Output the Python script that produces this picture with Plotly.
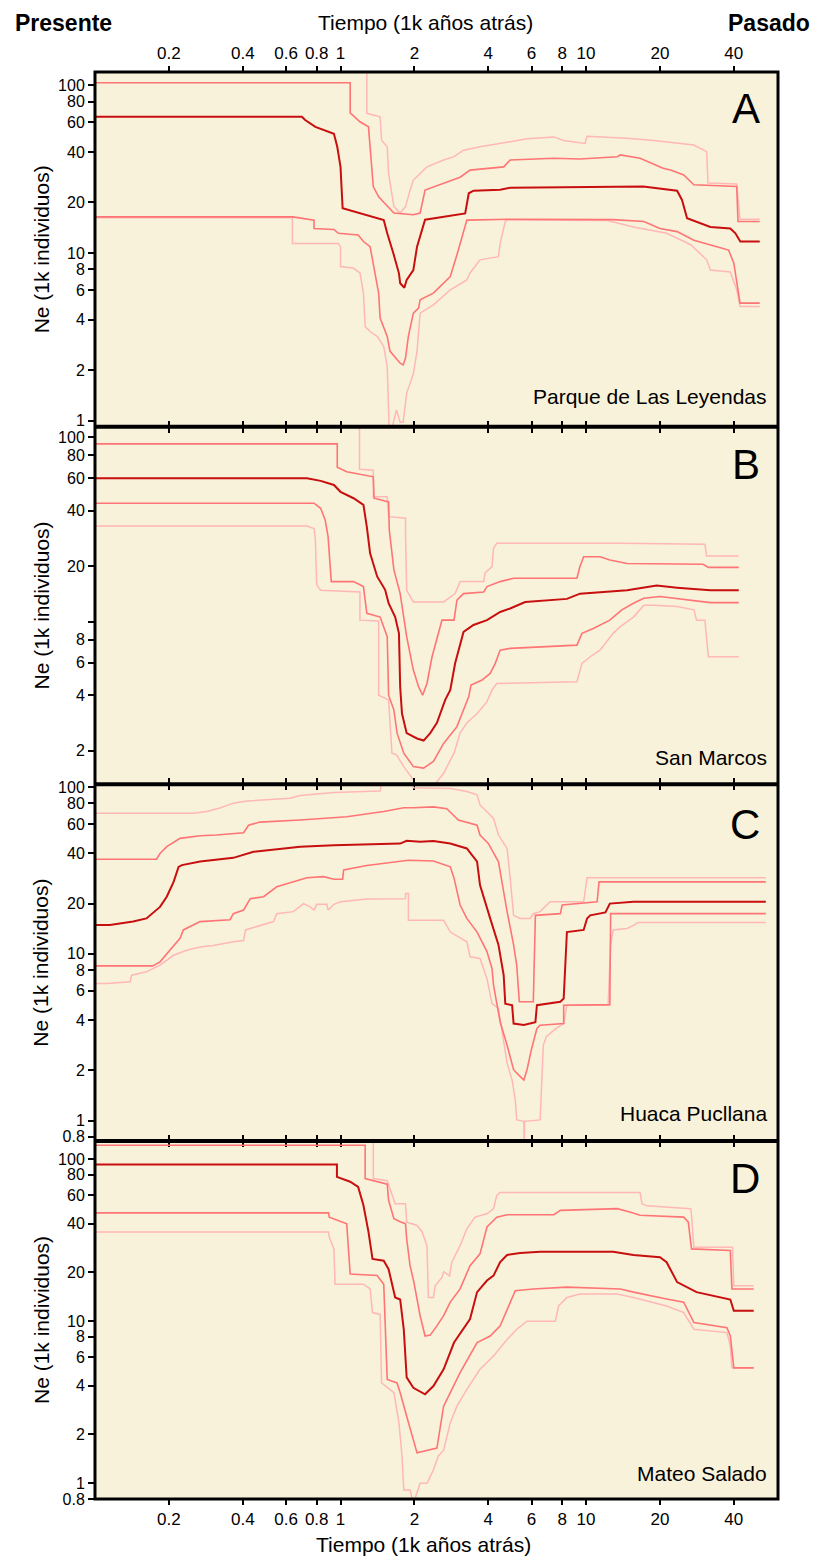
import plotly.graph_objects as go

# ---------------- data: time (1k years ago) and Ne (1k individuals) ----------------
# Panel A  - Parque de Las Leyendas
A_t_med = [0.1, 0.696, 0.718, 0.79, 0.94, 0.97, 1.0, 1.02, 1.50, 1.55, 1.64, 1.73, 1.75, 1.82, 1.86, 1.98, 2.05, 2.19, 2.21, 3.22, 3.33, 3.48, 4.47, 4.91, 17.1, 23.5, 24.6, 25.8, 32.1, 38.7, 40.6, 42.5, 51]
A_ne_med = [64.9, 64.9, 62, 56.5, 51.3, 43, 32.6, 18.5, 15.7, 13.1, 10, 7.56, 6.6, 6.2, 6.9, 7.9, 10.9, 15.4, 15.8, 17.2, 22.7, 23.5, 23.8, 24.5, 24.9, 23.5, 20.7, 16.1, 14.3, 14.0, 13.1, 11.7, 11.7]
A_t_iu = [0.1, 1.095, 1.095, 1.2, 1.30, 1.32, 1.36, 1.43, 1.55, 1.65, 1.98, 2.11, 2.21, 2.47, 3.07, 3.37, 4.62, 4.91, 7.4, 9.45, 13.4, 13.8, 16.6, 20.6, 22.1, 25.0, 27.5, 41.1, 41.6, 51]
A_ne_iu = [103.5, 103.5, 68.5, 60.6, 56.5, 43, 24.9, 21.6, 18.9, 17.3, 16.9, 17.3, 23.7, 25.1, 28.3, 31.2, 32.6, 35.8, 36.7, 36.3, 37.5, 38.4, 36.7, 32, 31.2, 29.2, 25.5, 24.9, 15.4, 15.4]
A_t_ou = [0.1, 1.28, 1.28, 1.45, 1.47, 1.55, 1.57, 1.65, 1.75, 1.84, 1.92, 1.98, 2.11, 2.25, 2.63, 2.9, 3.17, 3.7, 4.91, 5.75, 7.4, 8.1, 9.9, 10.1, 14.7, 18.9, 27.5, 31.0, 31.4, 41.1, 42.4, 51]
A_ne_ou = [200, 200, 68, 64.9, 47, 43, 29.8, 18.9, 17.3, 18.9, 23.7, 27.2, 29.8, 32.6, 35.8, 37.5, 41, 43, 46, 47.9, 49.2, 46.8, 45, 49.6, 48.3, 46.8, 44, 40.2, 26.1, 25.8, 15.9, 15.9]
A_t_il = [0.1, 0.64, 0.78, 0.78, 0.94, 0.98, 1.18, 1.24, 1.32, 1.38, 1.43, 1.45, 1.55, 1.59, 1.70, 1.75, 1.80, 1.84, 1.89, 1.98, 2.08, 2.11, 2.39, 2.8, 3.02, 3.27, 4.91, 12.9, 17.2, 20, 23.5, 27.5, 34.1, 38.1, 40, 41.1, 42.4, 51]
A_ne_il = [16.4, 16.4, 15.7, 14, 13.8, 13.1, 12.8, 11.7, 10.9, 7.6, 5.76, 4.09, 3.18, 2.6, 2.3, 2.2, 2.15, 2.36, 3.18, 4.38, 4.69, 5.26, 5.76, 7.23, 10.4, 15.7, 15.9, 15.8, 15.4, 14, 13.4, 11.9, 10.9, 10.4, 8.7, 6.9, 5.02, 5.02]
A_t_ol = [0.1, 0.637, 0.637, 0.98, 1.0, 1.0, 1.13, 1.2, 1.24, 1.26, 1.32, 1.41, 1.5, 1.55, 1.58, 1.62, 1.69, 1.75, 1.80, 1.86, 1.98, 2.05, 2.11, 2.39, 2.8, 3.27, 3.37, 3.7, 4.4, 4.47, 4.69, 4.77, 12.2, 15.6, 21.3, 26.7, 31, 32.1, 38.7, 41.1, 42.4, 51]
A_ne_ol = [16.2, 16.2, 11.4, 11.4, 10.9, 8.3, 8.1, 7.6, 5.76, 3.64, 3.4, 3.18, 2.77, 2.1, 0.85, 0.9, 1.16, 0.98, 0.98, 1.46, 1.9, 2.6, 4.38, 4.9, 6.03, 6.9, 7.6, 9.1, 9.5, 11.4, 15.4, 15.7, 15.6, 14.3, 13.1, 11.2, 9.1, 7.9, 7.7, 6.03, 4.79, 4.79]

# Panel B  - San Marcos
B_t_med = [0.1, 0.73, 0.83, 0.94, 1.0, 1.13, 1.24, 1.28, 1.32, 1.41, 1.52, 1.57, 1.67, 1.73, 1.75, 1.78, 1.86, 2.05, 2.18, 2.32, 2.47, 2.67, 2.8, 2.93, 3.17, 3.48, 3.95, 4.47, 4.91, 5.65, 8.36, 9.45, 14.7, 19.4, 23.5, 32.1, 41.9]
B_ne_med = [59.9, 59.9, 58, 55.1, 50.6, 46.7, 43, 32.7, 23.5, 17.6, 14.9, 12.6, 10.6, 8.65, 4.44, 3.18, 2.49, 2.33, 2.27, 2.49, 2.83, 3.77, 4.27, 5.95, 8.8, 9.6, 10.2, 11.3, 11.8, 12.8, 13.3, 14.2, 14.8, 15.7, 15.3, 14.8, 14.8]
B_t_iu = [0.1, 0.97, 0.97, 1.06, 1.36, 1.37, 1.57, 1.58, 1.65, 1.75, 1.86, 1.98, 2.08, 2.16, 2.25, 2.36, 2.59, 2.9, 2.98, 3.17, 3.83, 3.95, 4.47, 5.07, 9.18, 9.45, 9.78, 11.4, 12.5, 14.7, 30, 31.5, 41.9]
B_ne_iu = [92, 92, 68.7, 65, 61, 46.7, 44.6, 31.4, 19.1, 14.2, 8.3, 5.47, 4.44, 4.0, 4.63, 6.46, 10.2, 10.2, 13.1, 14.2, 14.5, 15.5, 16.5, 17.2, 17.2, 19.9, 22.5, 22.5, 21.6, 20.7, 20.5, 19.7, 19.7]
B_t_ou = [0.1, 1.195, 1.195, 1.36, 1.36, 1.55, 1.57, 1.84, 1.84, 1.86, 1.98, 2.63, 2.93, 3.07, 3.83, 3.88, 4.14, 4.2, 4.33, 13.8, 30.5, 31.0, 41.9]
B_ne_ou = [200, 200, 67, 66.3, 47.5, 47.5, 37.1, 36.4, 30, 14.8, 12.8, 12.8, 14.2, 16.5, 16.5, 18.4, 19.9, 25, 26.6, 26.6, 26.3, 22.7, 22.7]
B_t_il = [0.1, 0.78, 0.83, 0.866, 0.89, 0.917, 1.13, 1.24, 1.28, 1.45, 1.55, 1.57, 1.65, 1.70, 1.81, 1.98, 2.18, 2.39, 2.63, 2.98, 3.33, 3.4, 3.77, 4.07, 4.27, 4.47, 4.91, 9.18, 9.63, 10.7, 12.5, 14.0, 15.6, 17.2, 20, 25, 32.1, 41.9]
B_ne_il = [43.9, 43.9, 41.2, 35.6, 28.9, 16.5, 16.5, 15.5, 11.1, 10.6, 8.3, 4.0, 3.32, 2.49, 1.94, 1.64, 1.61, 1.75, 2.19, 2.7, 3.93, 4.54, 4.83, 5.25, 5.95, 7.02, 7.17, 7.47, 8.65, 9.2, 10.2, 11.6, 12.6, 13.4, 13.7, 13.2, 12.7, 12.7]
B_t_ol = [0.1, 0.73, 0.78, 0.79, 0.80, 0.83, 1.2, 1.2, 1.43, 1.43, 1.57, 1.62, 1.69, 1.81, 1.98, 2.1, 2.3, 2.47, 2.63, 2.9, 3.07, 3.27, 3.6, 3.95, 4.14, 4.33, 9.18, 9.63, 10.4, 11.4, 12.9, 13.8, 15.6, 17.2, 18.9, 23.5, 27.5, 28.2, 30.5, 31.5, 41.9]
B_ne_ol = [33, 33, 32, 28, 15.8, 14.8, 14.5, 10.2, 10.1, 4.0, 3.77, 1.94, 1.9, 1.64, 1.39, 1.2, 1.2, 1.36, 1.51, 1.94, 2.49, 2.83, 3.18, 3.69, 4.27, 4.63, 4.73, 5.95, 6.46, 7.02, 8.65, 9.4, 10.6, 12.3, 12.3, 12.1, 11.6, 10.2, 10.2, 6.46, 6.46]

# Panel C  - Huaca Pucllana
C_t_med = [0.1, 0.115, 0.143, 0.162, 0.184, 0.196, 0.209, 0.219, 0.226, 0.268, 0.366, 0.442, 0.685, 0.94, 1.75, 1.86, 2.11, 2.39, 2.8, 3.27, 3.6, 3.7, 4.07, 4.4, 4.62, 4.69, 5.0, 5.07, 5.58, 6.22, 6.31, 7.86, 8.11, 8.22, 8.36, 9.78, 10.1, 10.4, 12.0, 12.5, 15.6, 54]
C_ne_med = [14.9, 14.9, 15.6, 16.3, 19.1, 22.0, 27.0, 33.2, 34.0, 35.7, 37.6, 40.9, 43.8, 44.8, 45.8, 47.6, 47, 47.5, 45.8, 42.8, 35.7, 25.8, 16.3, 11.3, 7.44, 5.03, 4.92, 3.82, 3.74, 3.89, 4.92, 5.16, 5.39, 7.8, 13.5, 13.9, 16.3, 17.0, 17.7, 20, 20.5, 20.5]
C_t_iu = [0.1, 0.178, 0.184, 0.196, 0.222, 0.268, 0.313, 0.403, 0.422, 0.47, 0.685, 1.06, 1.5, 1.81, 1.98, 2.39, 2.71, 3.02, 3.6, 3.7, 4.0, 4.4, 4.77, 5.07, 5.22, 5.35, 6.1, 6.22, 7.86, 8.0, 11.1, 11.3, 54]
C_ne_iu = [36.9, 36.9, 39.9, 43.9, 49.2, 51.0, 51.5, 53.2, 59.0, 61.6, 63.4, 66.3, 71.2, 75.1, 75.1, 76, 74, 63.4, 59, 51.5, 45.9, 35.6, 17.9, 11.3, 8.55, 5.16, 5.16, 17.0, 17.4, 19.6, 20.5, 27.0, 27.0]
C_t_ou = [0.1, 0.252, 0.285, 0.323, 0.366, 0.415, 0.624, 0.685, 0.94, 1.45, 1.49, 1.95, 1.98, 2.39, 2.8, 3.27, 3.6, 3.7, 4.2, 4.4, 4.77, 4.91, 5.07, 5.39, 5.93, 6.1, 6.5, 7.14, 9.78, 10.1, 54]
C_ne_ou = [69.5, 69.5, 71.2, 74.9, 80, 82.3, 85.6, 89, 92.6, 94.5, 115, 115, 99, 99, 98, 93.9, 89.7, 78, 64.7, 51.5, 42.8, 28.4, 17, 16.3, 16.3, 17.4, 17.9, 20.5, 20.5, 28.6, 28.6]
C_t_il = [0.1, 0.172, 0.184, 0.2, 0.222, 0.229, 0.248, 0.268, 0.355, 0.366, 0.403, 0.429, 0.486, 0.55, 0.643, 0.73, 0.852, 0.94, 1.02, 1.03, 1.28, 1.75, 1.89, 2.39, 2.8, 2.9, 3.07, 3.27, 3.6, 3.95, 4.14, 4.2, 4.33, 4.47, 4.77, 5.07, 5.31, 5.58, 5.75, 6.0, 6.31, 6.5, 8.11, 8.11, 12.5, 12.6, 54]
C_ne_il = [8.47, 8.47, 8.95, 10.3, 12.4, 13.9, 14.8, 15.6, 16.0, 17.4, 18.3, 21.4, 22.0, 25.2, 27.0, 28.6, 29, 28, 28, 31.8, 33.8, 35.6, 36.4, 36, 33.2, 28.4, 19.6, 16.3, 13.5, 10.3, 8.17, 6.5, 4.92, 3.9, 2.83, 2.02, 1.88, 1.75, 2.02, 2.69, 3.57, 3.73, 3.82, 4.92, 4.96, 17.4, 17.4]
C_t_ol = [0.1, 0.112, 0.139, 0.141, 0.162, 0.184, 0.209, 0.236, 0.268, 0.303, 0.366, 0.403, 0.41, 0.47, 0.533, 0.55, 0.643, 0.707, 0.752, 0.78, 0.80, 0.88, 0.89, 0.94, 1.0, 1.28, 1.84, 1.84, 1.89, 1.89, 2.63, 2.8, 3.27, 3.37, 3.7, 3.95, 4.14, 4.4, 4.54, 4.77, 5.0, 5.15, 5.22, 5.58, 5.6, 5.62, 6.5, 6.62, 6.7, 6.9, 7.6, 8.11, 8.36, 12.3, 12.6, 12.9, 14.7, 15.6, 16.3, 54]
C_ne_ol = [6.64, 6.64, 6.8, 7.44, 7.8, 8.55, 9.8, 10.5, 11.0, 11.2, 11.8, 12.0, 13.9, 14.8, 15.6, 17.4, 17.9, 20, 19.1, 18.3, 19.8, 19.8, 18.3, 19.8, 20.5, 21.3, 21.4, 23.0, 23.0, 15.9, 15.9, 13.5, 11.8, 9.6, 9.37, 7.1, 5.03, 4.7, 3.57, 2.21, 1.75, 1.33, 1.01, 0.99, 0.7, 0.99, 1.01, 1.92, 2.83, 3.2, 3.6, 3.82, 4.92, 4.92, 11.3, 13.9, 14.2, 14.8, 15.4, 15.4]

# Panel D  - Mateo Salado
D_t_med = [0.1, 0.967, 0.967, 1.095, 1.18, 1.24, 1.30, 1.35, 1.5, 1.57, 1.67, 1.75, 1.81, 1.86, 1.98, 2.21, 2.39, 2.63, 2.9, 3.17, 3.37, 3.6, 3.95, 4.2, 4.47, 4.77, 5.39, 6.5, 12.9, 15.6, 20, 21.3, 23.5, 28.2, 36.4, 38.7, 40, 48.2]
D_ne_med = [92.5, 92.5, 77.6, 72.4, 67.3, 51.8, 35.5, 24.2, 23.6, 20.9, 14.0, 13.6, 8.9, 4.5, 3.88, 3.54, 3.98, 5.05, 7.38, 8.92, 10.3, 15.1, 17.8, 19.1, 23.1, 25.6, 26.3, 26.8, 26.8, 25.6, 24.8, 23.1, 17.4, 15.1, 14.0, 13.6, 11.6, 11.6]
D_t_iu = [0.1, 1.26, 1.26, 1.41, 1.55, 1.57, 1.65, 1.75, 1.84, 1.86, 1.92, 1.99, 2.11, 2.21, 2.32, 2.47, 2.63, 2.8, 3.07, 3.37, 3.7, 3.95, 4.33, 4.77, 7.4, 7.86, 13.4, 15.2, 16.6, 25, 26.1, 26.9, 38.7, 39.3, 48.2]
D_ne_iu = [121.6, 121.6, 75.7, 72.4, 70, 55.6, 42.8, 41, 39.8, 32.2, 22, 17.4, 10.8, 8.1, 8.2, 9.35, 10.8, 13.1, 15.8, 22, 26, 38.1, 43.8, 45.3, 45.3, 48.2, 49.4, 47, 45, 43.8, 40.8, 27.9, 27.3, 15.8, 15.8]
D_t_ou = [0.1, 1.36, 1.36, 1.55, 1.67, 1.84, 1.86, 2.05, 2.15, 2.25, 2.28, 2.39, 2.43, 2.59, 2.63, 2.78, 2.84, 3.07, 3.27, 3.53, 3.95, 4.2, 4.33, 4.47, 16.6, 16.9, 17.7, 26.7, 26.9, 27.5, 39.5, 40, 48.2]
D_ne_ou = [200, 200, 75.7, 73.5, 53, 53, 40.8, 38.9, 35.5, 29.2, 14.0, 14.0, 16.5, 18.6, 20.2, 19, 23.1, 29.2, 37.1, 43.8, 45.9, 49.4, 59.7, 62.1, 62.1, 53, 51.4, 49.4, 45, 28.6, 28.6, 16.5, 16.5]
D_t_il = [0.1, 0.894, 0.90, 1.06, 1.095, 1.41, 1.5, 1.55, 1.70, 1.75, 1.86, 2.02, 2.05, 2.47, 2.55, 2.63, 2.8, 3.07, 3.6, 4.07, 4.47, 4.77, 5.15, 6.1, 8.36, 13.8, 15.6, 21.3, 25, 27.5, 37.5, 38.7, 40, 48.2]
D_ne_il = [46.5, 46.5, 43.8, 39.8, 19.5, 19.1, 16.9, 4.37, 4.16, 3.62, 2.59, 1.61, 1.54, 1.65, 2.25, 2.99, 3.62, 4.81, 7.38, 8.1, 9.35, 11.9, 15.4, 15.8, 16.2, 15.8, 15.1, 13.7, 13.1, 9.8, 9.1, 8.1, 5.15, 5.15]
D_t_ol = [0.1, 0.894, 0.90, 0.94, 0.95, 1.24, 1.32, 1.35, 1.45, 1.47, 1.65, 1.73, 1.78, 1.81, 1.92, 1.98, 2.11, 2.25, 2.39, 2.5, 2.63, 2.8, 2.98, 3.27, 3.7, 4.2, 4.77, 5.22, 5.75, 7.5, 7.73, 8.36, 9.45, 13.4, 15.6, 21.3, 25, 27.5, 37.5, 38.7, 39.3, 48.2]
D_ne_ol = [35.4, 35.4, 33, 27.9, 16.9, 16.9, 15.8, 11.3, 11.0, 4.16, 3.62, 2.36, 1.48, 0.91, 0.91, 0.75, 1.0, 1.0, 1.21, 1.47, 1.6, 2.36, 2.99, 3.79, 5.05, 6.1, 7.7, 8.92, 10, 10, 12.4, 14.0, 14.7, 14.7, 14.0, 12.4, 11.3, 8.92, 8.5, 7.04, 5.15, 5.15]

# tick values / labels
x_ticks = [0.2, 0.4, 0.6, 0.8, 1, 2, 4, 6, 8, 10, 20, 40]
x_labels = ["0.2", "0.4", "0.6", "0.8", "1", "2", "4", "6", "8", "10", "20", "40"]
yA_ticks = [1, 2, 4, 6, 8, 10, 20, 40, 60, 80, 100]
yA_labels = ["1", "2", "4", "6", "8", "10", "20", "40", "60", "80", "100"]
yB_ticks = [2, 4, 6, 8, 10, 20, 40, 60, 80, 100]
yB_labels = ["2", "4", "6", "8", "", "20", "40", "60", "80", "100"]
yC_ticks = [0.8, 1, 2, 4, 6, 8, 10, 20, 40, 60, 80, 100]
yC_labels = ["0.8", "1", "2", "4", "6", "8", "10", "20", "40", "60", "80", "100"]

panel_letters = ["A", "B", "C", "D"]
site_names = ["Parque de Las Leyendas", "San Marcos", "Huaca Pucllana", "Mateo Salado"]

# ---------------- styling / layout ----------------
FONT = "Liberation Sans, Arial, Helvetica, sans-serif"
BG = "#F9F2DA"
C_MED = "#C80F0F"
C_IN = "#FF7474"
C_OUT = "#FFB7B7"

# the page body adds an 8px margin, so the figure is 8px smaller than the window
W, H = 815, 1550
L, R, T, B = 87, 45, 64, 59
# plot area in window pixels: x 95..778, y 72..1499
PX0, PX1, PY0, PY1 = 95.0, 778.0, 72.0, 1499.0


def py2paper(py):
    return (PY1 - py) / (PY1 - PY0)


def px2paper(px):
    return (px - PX0) / (PX1 - PX0)


panel_px = [(72, 426.7), (426.7, 784.3), (784.3, 1141.0), (1141.0, 1499.0)]
domains = [[py2paper(b), py2paper(t)] for (t, b) in panel_px]
domains[0][1] = 1.0
domains[3][0] = 0.0
y_ranges = [[-0.036, 2.079], [0.119, 2.057], [-0.122, 2.016], [-0.097, 2.111]]
y_tick_sets = [(yA_ticks, yA_labels), (yB_ticks, yB_labels), (yC_ticks, yC_labels), (yC_ticks, yC_labels)]

panels = [
    [(A_t_ou, A_ne_ou), (A_t_ol, A_ne_ol), (A_t_iu, A_ne_iu), (A_t_il, A_ne_il), (A_t_med, A_ne_med)],
    [(B_t_ou, B_ne_ou), (B_t_ol, B_ne_ol), (B_t_iu, B_ne_iu), (B_t_il, B_ne_il), (B_t_med, B_ne_med)],
    [(C_t_ou, C_ne_ou), (C_t_ol, C_ne_ol), (C_t_iu, C_ne_iu), (C_t_il, C_ne_il), (C_t_med, C_ne_med)],
    [(D_t_ou, D_ne_ou), (D_t_ol, D_ne_ol), (D_t_iu, D_ne_iu), (D_t_il, D_ne_il), (D_t_med, D_ne_med)],
]
styles = [(C_OUT, 1.5), (C_OUT, 1.5), (C_IN, 1.6), (C_IN, 1.6), (C_MED, 2.0)]

fig = go.Figure()
for i, series in enumerate(panels):
    xa = "x" if i == 0 else f"x{i+1}"
    ya = "y" if i == 0 else f"y{i+1}"
    for (t, ne), (col, w) in zip(series, styles):
        fig.add_trace(go.Scatter(x=t, y=ne, mode="lines", xaxis=xa, yaxis=ya,
                                 line=dict(color=col, width=w), hoverinfo="skip",
                                 showlegend=False))

layout = dict(
    width=W, height=H,
    margin=dict(l=L, r=R, t=T, b=B, pad=0, autoexpand=False),
    paper_bgcolor="white", plot_bgcolor=BG,
    font=dict(family=FONT, color="black", size=17),
    showlegend=False,
)

for i in range(4):
    xk = "xaxis" if i == 0 else f"xaxis{i+1}"
    yk = "yaxis" if i == 0 else f"yaxis{i+1}"
    ya_name = "y" if i == 0 else f"y{i+1}"
    xa_name = "x" if i == 0 else f"x{i+1}"
    layout[xk] = dict(
        type="log", range=[-1.0, 1.782], domain=[0, 1], anchor=ya_name,
        side="top" if i == 0 else "bottom",
        tickvals=x_ticks, ticktext=x_labels,
        showticklabels=(i == 0 or i == 3),
        ticks="outside", ticklen=5, tickwidth=1.5, tickcolor="black",
        mirror="ticks", showline=False, showgrid=False, zeroline=False,
        tickfont=dict(size=17, family=FONT),
    )
    tv, tt = y_tick_sets[i]
    layout[yk] = dict(
        type="log", range=y_ranges[i], domain=domains[i], anchor=xa_name,
        tickvals=tv, ticktext=tt,
        ticks="outside", ticklen=6, tickwidth=1.5, tickcolor="black",
        showline=False, showgrid=False, zeroline=False,
        tickfont=dict(size=16, family=FONT),
    )

shapes = [dict(type="rect", xref="paper", yref="paper", x0=0, x1=1, y0=0, y1=1,
               line=dict(color="black", width=3), fillcolor="rgba(0,0,0,0)", layer="above")]
for i in range(3):
    yb = domains[i][0]
    shapes.append(dict(type="line", xref="paper", yref="paper", x0=0, x1=1, y0=yb, y1=yb,
                       line=dict(color="black", width=4), layer="above"))
layout["shapes"] = shapes

ann = []
ann.append(dict(text="<b>Presente</b>", x=px2paper(13), y=py2paper(23), xref="paper", yref="paper",
                xanchor="left", yanchor="middle", showarrow=False, font=dict(size=23, family=FONT)))
ann.append(dict(text="<b>Pasado</b>", x=px2paper(812), y=py2paper(23), xref="paper", yref="paper",
                xanchor="right", yanchor="middle", showarrow=False, font=dict(size=23, family=FONT)))
ann.append(dict(text="Tiempo (1k años atrás)", x=px2paper(425), y=py2paper(23), xref="paper", yref="paper",
                xanchor="center", yanchor="middle", showarrow=False, font=dict(size=21, family=FONT)))
ann.append(dict(text="Tiempo (1k años atrás)", x=px2paper(423), y=py2paper(1544), xref="paper", yref="paper",
                xanchor="center", yanchor="middle", showarrow=False, font=dict(size=21, family=FONT)))
letter_offsets = [36, 38, 40, 37]
site_offsets = [30, 27, 28, 26]
for i, (top, bot) in enumerate(panel_px):
    ann.append(dict(text="Ne (1k individuos)", x=px2paper(41), y=py2paper((top + bot) / 2),
                    xref="paper", yref="paper", xanchor="center", yanchor="middle",
                    textangle=-90, showarrow=False, font=dict(size=21, family=FONT)))
    ann.append(dict(text=panel_letters[i], x=px2paper(762), y=py2paper(top + letter_offsets[i]),
                    xref="paper", yref="paper", xanchor="right", yanchor="middle",
                    showarrow=False, font=dict(size=42, family=FONT)))
    ann.append(dict(text=site_names[i], x=px2paper(769), y=py2paper(bot - site_offsets[i]),
                    xref="paper", yref="paper", xanchor="right", yanchor="middle",
                    showarrow=False, font=dict(size=21, family=FONT)))
layout["annotations"] = ann

fig.update_layout(**layout)
fig.write_html("out.html")
